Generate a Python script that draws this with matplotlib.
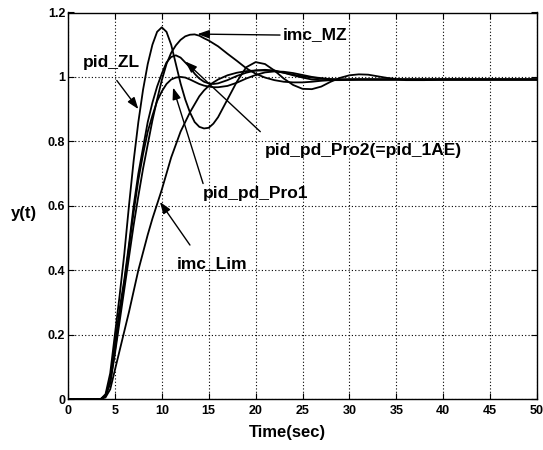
import matplotlib
matplotlib.use("Agg")
import matplotlib.pyplot as plt

plt.rcParams['font.family'] = ['Liberation Sans', 'DejaVu Sans']

# ---- data ----
t = [0, 3, 3.5, 4, 4.5, 5, 5.5, 6, 6.5, 7, 7.5, 8, 8.5, 9, 9.5, 10, 10.5, 11,
     11.5, 12, 12.5, 13, 13.5, 14, 14.5, 15, 15.5, 16, 17, 18, 19, 20, 21, 22,
     23, 24, 25, 26, 27, 28, 29, 30, 31, 32, 34, 36, 38, 40, 45, 50]

pid_ZL = [0, 0, 0.0, 0.015, 0.08, 0.2, 0.32, 0.45, 0.6, 0.74, 0.86, 0.96, 1.04,
          1.10, 1.14, 1.154, 1.14, 1.10, 1.04, 0.98, 0.93, 0.89, 0.86, 0.845,
          0.84, 0.842, 0.855, 0.875, 0.93, 0.985, 1.03, 1.046, 1.04, 1.02, 0.995,
          0.975, 0.963, 0.962, 0.97, 0.985, 0.997, 1.005, 1.008, 1.007, 0.997,
          0.99, 0.99, 0.992, 0.992, 0.992]

imc_MZ = [0, 0, 0.0, 0.01, 0.05, 0.14, 0.24, 0.34, 0.44, 0.54, 0.63, 0.715, 0.79,
          0.865, 0.93, 0.99, 1.04, 1.075, 1.098, 1.115, 1.126, 1.131, 1.132,
          1.128, 1.12, 1.113, 1.104, 1.095, 1.072, 1.05, 1.027, 1.01, 0.998,
          0.99, 0.985, 0.983, 0.983, 0.985, 0.988, 0.99, 0.991, 0.992, 0.992,
          0.992, 0.992, 0.992, 0.992, 0.992, 0.992, 0.992]

pid_pd_Pro2 = [0, 0, 0.0, 0.01, 0.06, 0.17, 0.28, 0.37, 0.48, 0.6, 0.7, 0.78,
               0.86, 0.92, 0.97, 1.01, 1.045, 1.062, 1.067, 1.06, 1.045, 1.03,
               1.01, 0.995, 0.985, 0.98, 0.978, 0.98, 0.99, 1.003, 1.013, 1.02,
               1.022, 1.02, 1.013, 1.005, 0.998, 0.992, 0.99, 0.99, 0.99, 0.991,
               0.992, 0.992, 0.992, 0.992, 0.992, 0.992, 0.992, 0.992]

pid_pd_Pro1 = [0, 0, 0.0, 0.01, 0.05, 0.15, 0.26, 0.36, 0.47, 0.58, 0.68, 0.76,
               0.83, 0.88, 0.925, 0.955, 0.978, 0.992, 0.998, 1.0, 0.998, 0.992,
               0.985, 0.978, 0.973, 0.97, 0.968, 0.968, 0.972, 0.982, 0.995,
               1.006, 1.014, 1.017, 1.016, 1.012, 1.006, 1.0, 0.996, 0.993, 0.992,
               0.992, 0.992, 0.992, 0.992, 0.992, 0.992, 0.992, 0.992, 0.992]

imc_Lim = [0, 0, 0.0, 0.005, 0.03, 0.09, 0.15, 0.21, 0.27, 0.335, 0.4, 0.455,
           0.51, 0.56, 0.605, 0.65, 0.7, 0.75, 0.79, 0.83, 0.86, 0.89, 0.915,
           0.94, 0.958, 0.972, 0.983, 0.992, 1.005, 1.013, 1.018, 1.02, 1.02,
           1.018, 1.013, 1.007, 1.002, 0.998, 0.995, 0.993, 0.992, 0.992, 0.992,
           0.992, 0.992, 0.992, 0.992, 0.992, 0.992, 0.992]

xticks = [0, 5, 10, 15, 20, 25, 30, 35, 40, 45, 50]
yticks = [0, 0.2, 0.4, 0.6, 0.8, 1.0, 1.2]
ytick_labels = ['0', '0.2', '0.4', '0.6', '0.8', '1', '1.2']

# labels: (text, text anchor, arrow tail, arrow head) in data coords
labels = [
    ("imc_MZ", (22.9, 1.133), (22.6, 1.130), (13.8, 1.133)),
    ("pid_ZL", (1.6, 1.045), (5.2, 0.989), (7.5, 0.900)),
    ("pid_pd_Pro2(=pid_1AE)", (21.0, 0.772), (20.5, 0.830), (12.5, 1.048)),
    ("pid_pd_Pro1", (14.4, 0.638), (14.4, 0.669), (11.2, 0.967)),
    ("imc_Lim", (11.6, 0.421), (13.0, 0.478), (9.8, 0.612)),
]

W, H = 543, 450
fig = plt.figure(figsize=(W / 100, H / 100), dpi=100)
ax = fig.add_axes([68 / W, 1 - 399 / H, 469 / W, 386.5 / H])

for series in (pid_ZL, imc_MZ, pid_pd_Pro2, pid_pd_Pro1, imc_Lim):
    ax.plot(t, series, color='black', lw=1.3, solid_joinstyle='round')

ax.set_xlim(0, 50)
ax.set_ylim(0, 1.2)
ax.set_xticks(xticks)
ax.set_xticklabels([str(v) for v in xticks], fontsize=9, fontweight='bold')
ax.set_yticks(yticks)
ax.set_yticklabels(ytick_labels, fontsize=9, fontweight='bold')
ax.tick_params(direction='in', length=4, width=0.8, top=True, right=True,
               pad=2)
ax.tick_params(axis='x', pad=4)
ax.grid(True, color='black', linestyle=(0, (1, 2)), linewidth=0.8)
for sp in ax.spines.values():
    sp.set_color('black')
    sp.set_linewidth(1.0)

for text, pos, tail, head in labels:
    ax.text(pos[0], pos[1], text, ha='left', va='center', fontsize=12.5,
            fontweight='bold')
    ax.annotate('', xy=head, xytext=tail,
                arrowprops=dict(arrowstyle='-|>,head_length=0.7,head_width=0.25',
                                color='black', lw=1.0, shrinkA=0, shrinkB=0))

fig.text(24 / W, 1 - 213 / H, 'y(t)', ha='center', va='center', fontsize=12,
         fontweight='bold')
fig.text(287 / W, 1 - 432 / H, 'Time(sec)', ha='center', va='center',
         fontsize=12, fontweight='bold')

fig.savefig('out.png', dpi=100)
